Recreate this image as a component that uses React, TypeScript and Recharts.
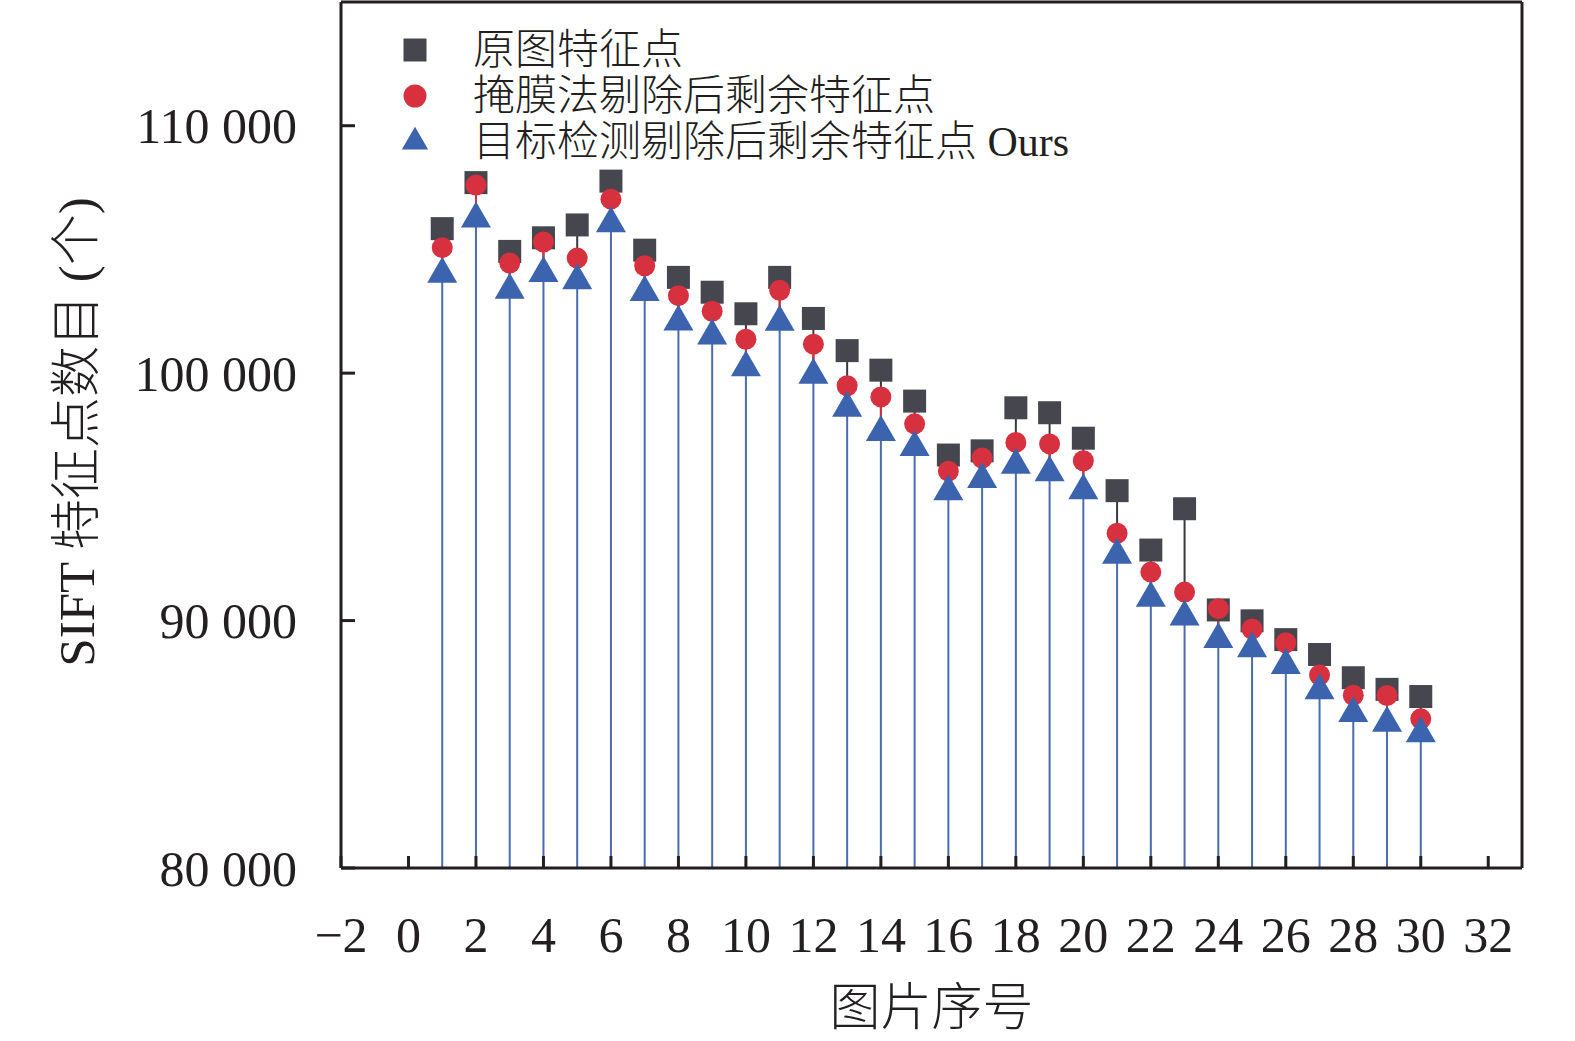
import React from 'react';
import { ScatterChart, Scatter, XAxis, YAxis, ErrorBar, Legend, ReferenceLine, Symbols, Label } from 'recharts';

const imageIndex = [1, 2, 3, 4, 5, 6, 7, 8, 9, 10, 11, 12, 13, 14, 15, 16, 17, 18, 19, 20, 21, 22, 23, 24, 25, 26, 27, 28, 29, 30];
const originalCounts = [105840, 107700, 104920, 105470, 105990, 107760, 104970, 103870, 103270, 102400, 103870, 102210, 100910, 100120, 98870, 96690, 96860, 98600, 98400, 97370, 95250, 92850, 94520, 90430, 89990, 89230, 88630, 87690, 87220, 86930];
const maskCounts = [105070, 107600, 104450, 105300, 104650, 107030, 104340, 103130, 102500, 101370, 103350, 101170, 99490, 99040, 97950, 96040, 96570, 97200, 97140, 96460, 93530, 91960, 91150, 90480, 89660, 89100, 87800, 86980, 86970, 86030];
const oursCounts = [104000, 106240, 103360, 104030, 103740, 106040, 103270, 102070, 101510, 100220, 102060, 99920, 98590, 97610, 97000, 95210, 95710, 96280, 95980, 95250, 92650, 90910, 90150, 89240, 88870, 88190, 87170, 86250, 85860, 85430];

const xTicks = [-2, 0, 2, 4, 6, 8, 10, 12, 14, 16, 18, 20, 22, 24, 26, 28, 30, 32];
const yTicks = [80000, 90000, 100000, 110000];
const xDomain = [-2, 33];
const yDomain = [80000, 115000];

const seriesNames = ['原图特征点', '掩膜法剔除后剩余特征点', '目标检测剔除后剩余特征点 Ours'];
const seriesColors = ['#46464e', '#d7303f', '#3b63ae'];
const stemColors = ['#3a3a3e', '#d7303f', '#4a6cb0'];
const seriesShapes = ['square', 'circle', 'triangle'];
const markerSizes = [529, 346, 390];
const legendSizes = [529, 415, 300];

const xLabel = '图片序号';
const yLabel = 'SIFT 特征点数目 (个)';

const SERIF = '"Liberation Serif", "Times New Roman", "Noto Sans CJK SC", serif';
const AXIS = '#231f20';
const BASE = yDomain[0];

// Each stem runs down to the next series below it (the lowest one runs to the axis base),
// so overlapping stems never blend.
const toPoints = (vals: number[], lower: number[] | null) =>
  imageIndex.map((x, i) => ({ x, y: vals[i], stem: [vals[i] - (lower ? lower[i] : BASE), 0] }));

const seriesData = [
  toPoints(originalCounts, oursCounts),
  toPoints(maskCounts, oursCounts),
  toPoints(oursCounts, null),
];

const fmtY = (v: number) => `${Math.floor(v / 1000)} ${String(v % 1000).padStart(3, '0')}`;
const fmtX = (v: number) => (v < 0 ? `\u2212${Math.abs(v)}` : String(v));

const renderLegend = () => (
  <div style={{ fontFamily: SERIF }}>
    {seriesNames.map((name, i) => (
      <div key={name} style={{ display: 'flex', alignItems: 'center', height: 46 }}>
        <svg width={40} height={40}>
          <Symbols cx={20} cy={20} type={seriesShapes[i] as any} size={legendSizes[i]} fill={seriesColors[i]} />
        </svg>
        <span style={{ marginLeft: 38, fontSize: 42, lineHeight: '46px', color: '#231f20', fontWeight: 300, whiteSpace: 'nowrap' }}>
          {name}
        </span>
      </div>
    ))}
  </div>
);

const makeShape = (i: number) => (props: any) => (
  <Symbols cx={props.cx} cy={props.cy} type={seriesShapes[i] as any} size={markerSizes[i]} fill={seriesColors[i]} />
);

export default function App() {
  return (
    <div style={{ position: 'absolute', left: 0, top: 0, background: '#fff' }}>
      <ScatterChart width={1575} height={1041} margin={{ top: 2, right: 53, bottom: 0, left: 0 }}>
        <XAxis
          type="number"
          dataKey="x"
          domain={xDomain}
          ticks={xTicks}
          interval={0}
          allowDataOverflow
          height={173}
          tickFormatter={fmtX}
          tickSize={-12}
          tickMargin={60}
          axisLine={{ stroke: AXIS, strokeWidth: 3 }}
          tickLine={{ stroke: AXIS, strokeWidth: 3 }}
          tick={{ fontSize: 50, fill: AXIS, fontFamily: SERIF }}
        >
          <Label
            content={(p: any) => {
              const vb = p.viewBox;
              return (
                <text x={vb.x + vb.width / 2} y={vb.y + 140} textAnchor="middle" dominantBaseline="central" fontSize={51} fill={AXIS} fontFamily={SERIF} fontWeight={300}>
                  {xLabel}
                </text>
              );
            }}
          />
        </XAxis>
        <YAxis
          type="number"
          dataKey="y"
          domain={yDomain}
          ticks={yTicks}
          interval={0}
          allowDataOverflow
          width={341}
          tickFormatter={fmtY}
          tickSize={-14}
          tickMargin={58}
          axisLine={{ stroke: AXIS, strokeWidth: 3 }}
          tickLine={{ stroke: AXIS, strokeWidth: 3 }}
          tick={{ fontSize: 50, fill: AXIS, fontFamily: SERIF }}
        >
          <Label
            content={(p: any) => {
              const vb = p.viewBox;
              const cx = vb.x + 77;
              const cy = vb.y + vb.height / 2 - 3;
              return (
                <text x={cx} y={cy} transform={`rotate(-90, ${cx}, ${cy})`} textAnchor="middle" dominantBaseline="central" fontSize={51} fill={AXIS} fontFamily={SERIF} fontWeight={300}>
                  {yLabel}
                </text>
              );
            }}
          />
        </YAxis>
        <ReferenceLine y={yDomain[1]} stroke={AXIS} strokeWidth={3} />
        <ReferenceLine x={xDomain[1]} stroke={AXIS} strokeWidth={3} />
        {seriesData.map((data, i) => (
          <Scatter
            key={seriesNames[i]}
            name={seriesNames[i]}
            data={data}
            fill={seriesColors[i]}
            legendType={seriesShapes[i] as any}
            shape={makeShape(i)}
            isAnimationActive={false}
          >
            <ErrorBar dataKey="stem" direction="y" width={0} stroke={stemColors[i]} strokeWidth={2} isAnimationActive={false} />
          </Scatter>
        ))}
        <Legend
          layout="vertical"
          align="center"
          verticalAlign="middle"
          wrapperStyle={{ left: 395, top: 27, width: 'auto', height: 'auto' }}
          content={renderLegend}
        />
      </ScatterChart>
    </div>
  );
}
